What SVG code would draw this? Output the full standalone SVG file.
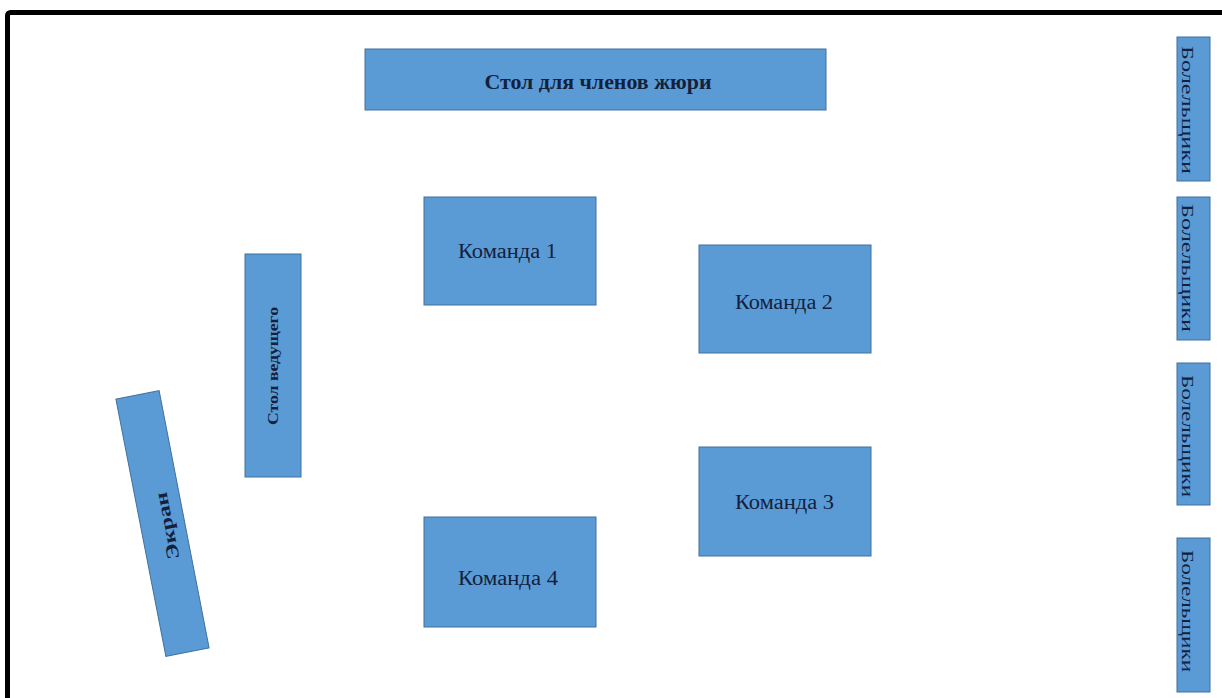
<svg xmlns="http://www.w3.org/2000/svg" width="1222" height="698" viewBox="0 0 1222 698">
<style>
.box{fill:#5B9BD5;stroke:#41719C;stroke-width:1}
.t{font-family:"Liberation Serif","Times New Roman",serif;fill:#13213d}
.b{font-weight:bold}
</style>
<rect x="0" y="0" width="1222" height="698" fill="#ffffff"/>
<rect x="7.5" y="12.5" width="1300" height="800" rx="3" fill="none" stroke="#000" stroke-width="5"/>
<g id="jury">
<rect class="box" x="365" y="49" width="461" height="61"/>
<text class="t b" x="598" y="89" font-size="20" text-anchor="middle" textLength="227" lengthAdjust="spacingAndGlyphs">Стол для членов жюри</text>
</g>
<g id="team1">
<rect class="box" x="424" y="197" width="172" height="108"/>
<text class="t" x="507.5" y="258" font-size="20" text-anchor="middle" textLength="99" lengthAdjust="spacingAndGlyphs">Команда 1</text>
</g>
<g id="team2">
<rect class="box" x="699" y="245" width="172" height="108"/>
<text class="t" x="784" y="309" font-size="20" text-anchor="middle" textLength="98" lengthAdjust="spacingAndGlyphs">Команда 2</text>
</g>
<g id="team3">
<rect class="box" x="699" y="447" width="172" height="109"/>
<text class="t" x="784.5" y="509" font-size="20" text-anchor="middle" textLength="99" lengthAdjust="spacingAndGlyphs">Команда 3</text>
</g>
<g id="team4">
<rect class="box" x="424" y="517" width="172" height="110"/>
<text class="t" x="508" y="585" font-size="20" text-anchor="middle" textLength="100" lengthAdjust="spacingAndGlyphs">Команда 4</text>
</g>
<g id="host">
<rect class="box" x="245" y="254" width="56" height="223"/>
<text class="t b" transform="translate(278,366) rotate(-90)" x="0" y="0" font-size="14" text-anchor="middle" textLength="118" lengthAdjust="spacingAndGlyphs">Стол ведущего</text>
</g>
<g id="screen">
<rect class="box" transform="translate(162.5,523.5) rotate(-11)" x="-22" y="-131" width="44" height="262"/>
<text class="t b" transform="translate(167,526) rotate(-101)" x="0" y="6" font-size="18" text-anchor="middle" textLength="68" lengthAdjust="spacingAndGlyphs">Экран</text>
</g>
<g id="fans1">
<rect class="box" x="1177" y="37" width="33" height="144"/>
<text class="t" transform="translate(1187,110) rotate(90)" x="0" y="0" font-size="16" text-anchor="middle" dominant-baseline="central" textLength="128" lengthAdjust="spacingAndGlyphs">Болельщики</text>
</g>
<g id="fans2">
<rect class="box" x="1177" y="197" width="33" height="143"/>
<text class="t" transform="translate(1187,268) rotate(90)" x="0" y="0" font-size="16" text-anchor="middle" dominant-baseline="central" textLength="128" lengthAdjust="spacingAndGlyphs">Болельщики</text>
</g>
<g id="fans3">
<rect class="box" x="1177" y="363" width="33" height="142"/>
<text class="t" transform="translate(1187,436) rotate(90)" x="0" y="0" font-size="16" text-anchor="middle" dominant-baseline="central" textLength="122" lengthAdjust="spacingAndGlyphs">Болельщики</text>
</g>
<g id="fans4">
<rect class="box" x="1177" y="538" width="33" height="154"/>
<text class="t" transform="translate(1187,611) rotate(90)" x="0" y="0" font-size="16" text-anchor="middle" dominant-baseline="central" textLength="122" lengthAdjust="spacingAndGlyphs">Болельщики</text>
</g>
<g id="connectors"></g>
</svg>
